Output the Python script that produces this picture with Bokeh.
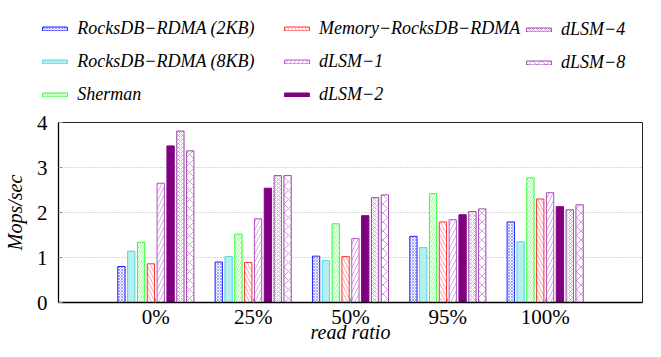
from bokeh.plotting import figure
from bokeh.layouts import column
from bokeh.models import Range1d, FixedTicker, Legend, LegendItem
from bokeh.embed import file_html
from bokeh.resources import INLINE
import numpy as np

categories = ["0%", "25%", "50%", "95%", "100%"]
series_names = ["RocksDB−RDMA (2KB)", "RocksDB−RDMA (8KB)", "Sherman",
                "Memory−RocksDB−RDMA", "dLSM−1", "dLSM−2", "dLSM−4", "dLSM−8"]
rocksdb_2kb = [0.80, 0.90, 1.03, 1.47, 1.79]
rocksdb_8kb = [1.14, 1.02, 0.93, 1.22, 1.35]
sherman = [1.34, 1.52, 1.75, 2.42, 2.77]
memory_rocksdb = [0.86, 0.89, 1.02, 1.79, 2.30]
dlsm_1 = [2.65, 1.86, 1.42, 1.84, 2.44]
dlsm_2 = [3.48, 2.54, 1.93, 1.95, 2.13]
dlsm_4 = [3.81, 2.82, 2.33, 2.02, 2.06]
dlsm_8 = [3.37, 2.82, 2.39, 2.08, 2.17]
series_values = [rocksdb_2kb, rocksdb_8kb, sherman, memory_rocksdb,
                 dlsm_1, dlsm_2, dlsm_4, dlsm_8]

styles = [
    dict(line_color="#2020ff", fill_color="white", hatch_pattern="x", hatch_color="#4040ff",
         hatch_alpha=0.6, hatch_scale=3, hatch_weight=0.8),
    dict(line_color="#50d8dc", fill_color="#b6eef0"),
    dict(line_color="#30ff30", fill_color="white", hatch_pattern="/", hatch_color="#40ff40",
         hatch_alpha=0.6, hatch_scale=5, hatch_weight=1),
    dict(line_color="#ff3030", fill_color="white", hatch_pattern="\\", hatch_color="#ff6060",
         hatch_alpha=0.6, hatch_scale=7, hatch_weight=1),
    dict(line_color="#b050c0", fill_color="white", hatch_pattern="/", hatch_color="#c070d0",
         hatch_alpha=0.6, hatch_scale=8, hatch_weight=1),
    dict(line_color="#800080", fill_color="#800080"),
    dict(line_color="#a040b0", fill_color="white", hatch_pattern="x", hatch_color="#b060c0",
         hatch_alpha=0.6, hatch_scale=4, hatch_weight=0.8),
    dict(line_color="#a040b0", fill_color="white", hatch_pattern="x", hatch_color="#b060c0",
         hatch_alpha=0.6, hatch_scale=9, hatch_weight=1),
]

W = 661
TOP_H = 109
MAIN_H = 248

step = 0.101
bar_w = 0.075
group_x = np.arange(1, len(categories) + 1)
offsets = [(j - (len(series_values) - 1) / 2) * step for j in range(len(series_values))]

# ---------------- main chart ----------------
p = figure(width=W, height=MAIN_H, output_backend="svg", toolbar_location=None,
           x_range=Range1d(0, 6), y_range=Range1d(0, 4),
           min_border_left=48, min_border_right=19, min_border_top=13, min_border_bottom=55)
p.frame_align = False
p.background_fill_color = "white"
p.border_fill_color = "white"
p.outline_line_color = "#222222"
p.outline_line_width = 1

for vals, st, off in zip(series_values, styles, offsets):
    p.vbar(x=group_x + off, top=vals, width=bar_w, line_width=1, **st)

p.xaxis.ticker = FixedTicker(ticks=list(group_x))
p.xaxis.major_label_overrides = {int(i): c for i, c in zip(group_x, categories)}
p.yaxis.ticker = FixedTicker(ticks=[0, 1, 2, 3, 4])
for ax in (p.xaxis[0], p.yaxis[0]):
    ax.axis_line_color = "black"
    ax.axis_line_width = 1.3
    ax.major_tick_in = 4
    ax.major_tick_out = 0
    ax.major_tick_line_color = "#999999"
    ax.minor_tick_line_color = None
    ax.major_label_text_font = "Liberation Serif"
    ax.major_label_text_font_size = "21px"
    ax.major_label_text_color = "black"
    ax.major_label_text_line_height = 1.0
    ax.axis_label_text_font = "Liberation Serif"
    ax.axis_label_text_font_style = "italic"
    ax.axis_label_text_font_size = "20px"
    ax.axis_label_text_color = "black"
    ax.axis_label_text_line_height = 1.0
p.xaxis.axis_label = "read ratio"
p.yaxis.axis_label = "Mops/sec"
p.xaxis.major_label_standoff = 2
p.xaxis.axis_label_standoff = -11
p.yaxis.major_label_standoff = 11
p.yaxis.axis_label_standoff = 8

p.xgrid.grid_line_color = None
p.ygrid.grid_line_color = "#b0b0b0"
p.ygrid.grid_line_dash = "1 2"
p.ygrid.grid_line_width = 1

# ---------------- legend strip above the chart ----------------
# same series drawn again, but outside this strip's visible ranges: only the legend shows
top = figure(width=W, height=TOP_H, output_backend="svg", toolbar_location=None,
             x_range=Range1d(100, 200), y_range=Range1d(100, 200),
             x_axis_type=None, y_axis_type=None,
             min_border_left=0, min_border_right=0, min_border_top=0, min_border_bottom=0)
top.frame_align = False
top.outline_line_color = None
top.xgrid.grid_line_color = None
top.ygrid.grid_line_color = None
top.background_fill_color = "white"
top.border_fill_color = "white"

legend_renderers = [top.vbar(x=group_x + off, top=vals, width=bar_w, line_width=1, **st)
                    for vals, st, off in zip(series_values, styles, offsets)]

columns = [[0, 1, 2], [3, 4, 5], [6, 7]]
col_x = [39.3, 281, 523]
row_h = 20
row_sp = 12
legend_top = 20.8
for cols, cx in zip(columns, col_x):
    items = [LegendItem(label=series_names[k], renderers=[legend_renderers[k]]) for k in cols]
    n = len(cols)
    H = n * row_h + (n - 1) * row_sp
    leg = Legend(items=items, location=(cx, TOP_H - legend_top - H),
                 glyph_width=31, glyph_height=5, label_standoff=7,
                 label_height=row_h, spacing=row_sp, padding=0, margin=0,
                 label_text_font="Liberation Serif", label_text_font_style="italic",
                 label_text_font_size="18px", label_text_color="black",
                 border_line_alpha=0, background_fill_alpha=0)
    top.add_layout(leg)

layout = column(top, p, spacing=0)
open("out.html", "w").write(file_html(layout, INLINE))
